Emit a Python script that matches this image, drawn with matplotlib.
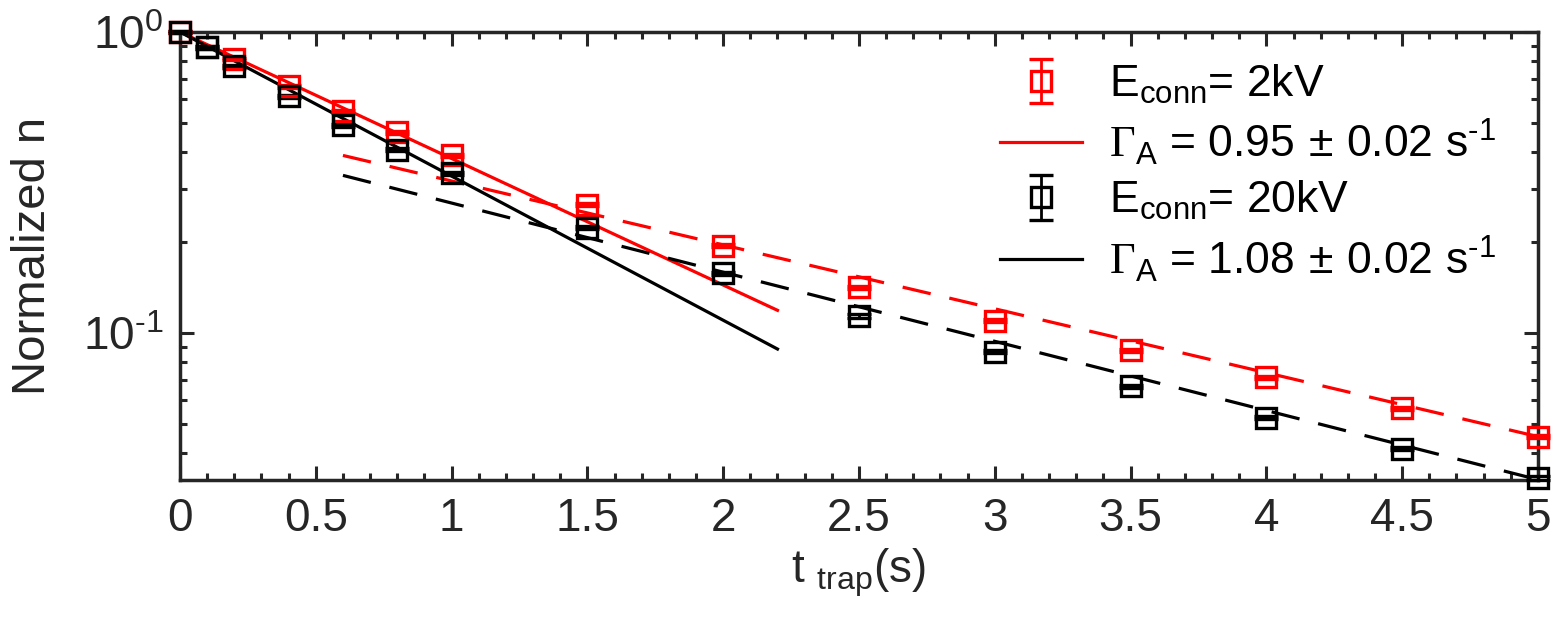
import matplotlib
matplotlib.use("Agg")
import matplotlib.pyplot as plt
from matplotlib import font_manager
from matplotlib.ticker import FixedLocator, MultipleLocator, LogLocator, NullFormatter

# ---- data ----
t = [0, 0.1, 0.2, 0.4, 0.6, 0.8, 1.0, 1.5, 2.0, 2.5, 3.0, 3.5, 4.0, 4.5, 5.0]
n_2kv = [1.0, 0.89, 0.813, 0.661, 0.545, 0.464, 0.389, 0.267, 0.195, 0.142,
         0.110, 0.0878, 0.0713, 0.0562, 0.0453]
n_20kv = [1.0, 0.89, 0.77, 0.612, 0.49, 0.407, 0.339, 0.224, 0.158, 0.114,
          0.0866, 0.0666, 0.0523, 0.0413, 0.0330]
err_2kv = [0.01, 0.009, 0.008, 0.007, 0.006, 0.005, 0.004, 0.003, 0.0022, 0.0016,
           0.0012, 0.001, 0.0008, 0.0006, 0.0005]
err_20kv = [0.01, 0.009, 0.008, 0.007, 0.006, 0.005, 0.004, 0.003, 0.002, 0.0014,
            0.001, 0.0008, 0.0006, 0.0005, 0.0004]

fit_fast_t = [0, 2.2]
fit_fast_2kv = [1.0, 0.119]
fit_fast_20kv = [1.0, 0.0885]

fit_slow_t = [0.6, 5.0]
fit_slow_2kv = [0.389, 0.0453]
fit_slow_20kv = [0.334, 0.0326]

labels = [r"E$_{\mathsf{conn}}$= 2kV",
          r"$\mathtt{\Gamma}_{\mathsf{A}}$ = 0.95$\,\pm\,$0.02 s$^{\text{-1}}$",
          r"E$_{\mathsf{conn}}$= 20kV",
          r"$\mathtt{\Gamma}_{\mathsf{A}}$ = 1.08$\,\pm\,$0.02 s$^{\text{-1}}$"]
xticks = [0, 0.5, 1, 1.5, 2, 2.5, 3, 3.5, 4, 4.5, 5]
xticklabels = ["0", "0.5", "1", "1.5", "2", "2.5", "3", "3.5", "4", "4.5", "5"]
yticks = [0.1, 1.0]
yticklabels = [r"10$^{\text{-1}}$", r"10$^{\text{0}}$"]

# ---- style ----
names = {f.name for f in font_manager.fontManager.ttflist}
base = "Liberation Sans" if "Liberation Sans" in names else "DejaVu Sans"
serif = "Liberation Serif" if "Liberation Serif" in names else "DejaVu Serif"
plt.rcParams['font.family'] = [base, 'DejaVu Sans']
plt.rcParams['mathtext.fontset'] = 'custom'
plt.rcParams['mathtext.rm'] = base
plt.rcParams['mathtext.sf'] = base
plt.rcParams['mathtext.tt'] = serif
plt.rcParams['mathtext.it'] = base + ':italic'
plt.rcParams['mathtext.bf'] = base + ':bold'

dark = "#262626"
fig = plt.figure(figsize=(15.53, 6.21), dpi=100)
ax = fig.add_axes([0.1159, 0.227, 0.8744, 0.7215])

RED = "#ff0000"
BLK = "#000000"
ms = 15
mew = 2.4
lw = 2.3
dash = (9, 6)

h1 = ax.errorbar(t, n_2kv, yerr=err_2kv, fmt='s', mfc='none', mec=RED, ms=ms, mew=mew,
                 ecolor=RED, elinewidth=2, capsize=ms / 2 + 1, capthick=2, clip_on=False, zorder=3)
l1, = ax.plot(fit_fast_t, fit_fast_2kv, '-', color=RED, lw=lw, zorder=2)
ax.plot(fit_slow_t, fit_slow_2kv, color=RED, lw=lw, dashes=dash, zorder=2)

h2 = ax.errorbar(t, n_20kv, yerr=err_20kv, fmt='s', mfc='none', mec=BLK, ms=ms, mew=mew,
                 ecolor=BLK, elinewidth=2, capsize=ms / 2 + 1, capthick=2, clip_on=False, zorder=3)
l2, = ax.plot(fit_fast_t, fit_fast_20kv, '-', color=BLK, lw=lw, zorder=2)
ax.plot(fit_slow_t, fit_slow_20kv, color=BLK, lw=lw, dashes=dash, zorder=2)

for c in h1.get_children() + h2.get_children():
    c.set_clip_on(False)

ax.set_yscale('log')
ax.set_xlim(0, 5)
ax.set_ylim(0.0325, 1.0)

ax.set_xticks(xticks)
ax.set_xticklabels(xticklabels, fontsize=33)
ax.xaxis.set_minor_locator(MultipleLocator(0.1))
ax.yaxis.set_major_locator(FixedLocator(yticks))
ax.set_yticklabels(yticklabels, fontsize=33)
ax.yaxis.set_minor_locator(LogLocator(base=10, subs=range(2, 10)))
ax.yaxis.set_minor_formatter(NullFormatter())

ax.tick_params(which='both', direction='in', top=True, right=True, colors=dark)
ax.tick_params(which='major', length=10, width=2.2, pad=12)
ax.tick_params(which='minor', length=5, width=2.2)
for s in ax.spines.values():
    s.set_linewidth(2.5)
    s.set_color(dark)

ax.set_ylabel("Normalized n", fontsize=34, color=dark, labelpad=20)
ax.set_xlabel(r"t $_{\mathsf{trap}}$(s)", fontsize=33, color=dark, labelpad=4)

leg = ax.legend([h1, l1, h2, l2], labels, loc='upper right', frameon=False,
                fontsize=32, handlelength=1.85, handletextpad=0.6, labelspacing=0.26,
                borderaxespad=0.0, bbox_to_anchor=(0.982, 0.972))

fig.savefig("out.png", dpi=100)
